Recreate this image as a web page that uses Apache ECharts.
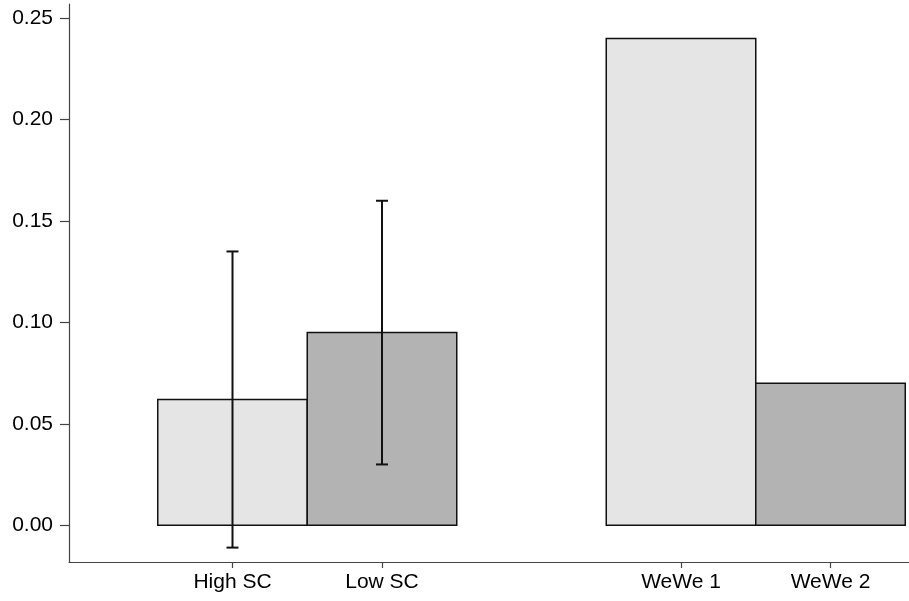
<!DOCTYPE html>
<html>
<head>
<meta charset="utf-8">
<script src="https://cdn.jsdelivr.net/npm/echarts@6/dist/echarts.min.js"></script>
<style>
  html, body { margin: 0; padding: 0; background: #fff; }
  #chart { width: 909px; height: 601px; }
</style>
</head>
<body>
<div id="chart"></div>
<script>
// categories and where they sit on the x scale (gap between the two groups)
const categories = ['High SC', 'Low SC', 'WeWe 1', 'WeWe 2'];
const positions = [1, 2, 4, 5];
const means = [0.062, 0.095, 0.240, 0.070];
// error bars only on the first group
const errLow = [-0.011, 0.030, null, null];
const errHigh = [0.135, 0.160, null, null];
const yTicks = [0, 0.05, 0.10, 0.15, 0.20, 0.25];

const fills = ['#e5e5e5', '#b3b3b3', '#e5e5e5', '#b3b3b3'];
const font = "'Liberation Sans', Arial, Helvetica, sans-serif";
const axisColor = '#444';

const chart = echarts.init(document.getElementById('chart'));

const barData = positions.map((p, i) => [p, means[i], i]);
const errData = positions
  .map((p, i) => [p, errLow[i], errHigh[i]])
  .filter(d => d[1] != null);

chart.setOption({
  animation: false,
  grid: { left: 69, right: 0, top: 4, bottom: 39 },
  xAxis: {
    type: 'value',
    min: -0.0936,
    max: 5.525,
    splitLine: { show: false },
    axisLine: { onZero: false, lineStyle: { color: axisColor, width: 1.2 } },
    axisTick: { customValues: positions, length: 6, lineStyle: { color: axisColor, width: 1.2 } },
    axisLabel: {
      customValues: positions,
      margin: 10,
      fontSize: 21,
      fontFamily: font,
      color: '#000',
      formatter: v => categories[positions.indexOf(v)] || ''
    }
  },
  yAxis: {
    type: 'value',
    min: -0.0181,
    max: 0.257,
    splitLine: { show: false },
    axisLine: { show: true, onZero: false, lineStyle: { color: axisColor, width: 1.2 } },
    axisTick: { show: true, customValues: yTicks, length: 9, lineStyle: { color: axisColor, width: 1.2 } },
    axisLabel: {
      customValues: yTicks,
      margin: 16,
      fontSize: 21,
      fontFamily: font,
      color: '#000',
      formatter: v => v.toFixed(2)
    }
  },
  series: [
    {
      type: 'custom',
      data: barData,
      renderItem: (params, api) => {
        const x = api.value(0);
        const v = api.value(1);
        const tl = api.coord([x - 0.5, v]);
        const br = api.coord([x + 0.5, 0]);
        return {
          type: 'rect',
          shape: { x: tl[0], y: tl[1], width: br[0] - tl[0], height: br[1] - tl[1] },
          style: { fill: fills[api.value(2)], stroke: '#111', lineWidth: 1.5 }
        };
      }
    },
    {
      type: 'custom',
      data: errData,
      z: 3,
      renderItem: (params, api) => {
        const x = api.value(0);
        const lo = api.coord([x, api.value(1)]);
        const hi = api.coord([x, api.value(2)]);
        const cap = 6;
        const st = { stroke: '#111', lineWidth: 2 };
        return {
          type: 'group',
          children: [
            { type: 'line', shape: { x1: lo[0], y1: lo[1], x2: hi[0], y2: hi[1] }, style: st },
            { type: 'line', shape: { x1: lo[0] - cap, y1: lo[1], x2: lo[0] + cap, y2: lo[1] }, style: st },
            { type: 'line', shape: { x1: hi[0] - cap, y1: hi[1], x2: hi[0] + cap, y2: hi[1] }, style: st }
          ]
        };
      }
    }
  ]
});
</script>
</body>
</html>
